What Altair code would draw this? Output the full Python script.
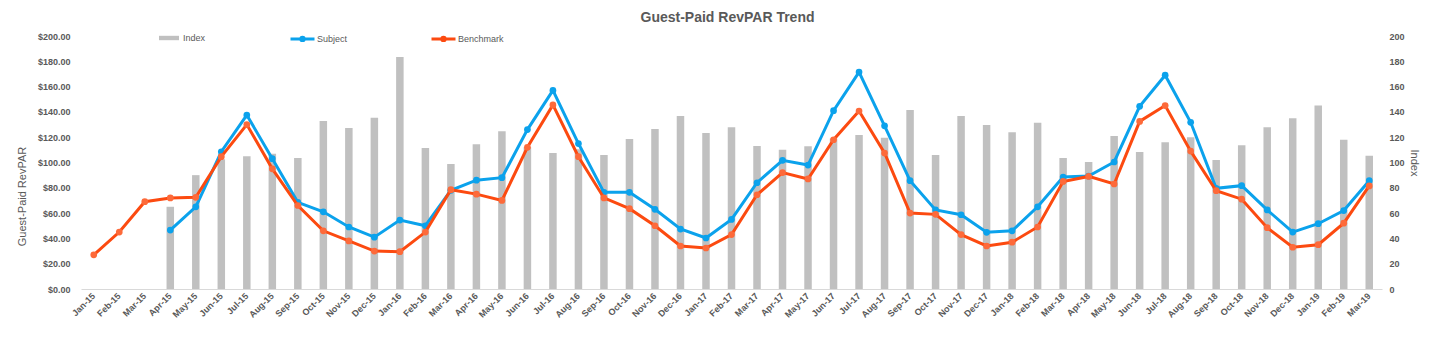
import altair as alt
import pandas as pd

months = ["Jan-15","Feb-15","Mar-15","Apr-15","May-15","Jun-15","Jul-15","Aug-15","Sep-15","Oct-15","Nov-15","Dec-15",
          "Jan-16","Feb-16","Mar-16","Apr-16","May-16","Jun-16","Jul-16","Aug-16","Sep-16","Oct-16","Nov-16","Dec-16",
          "Jan-17","Feb-17","Mar-17","Apr-17","May-17","Jun-17","Jul-17","Aug-17","Sep-17","Oct-17","Nov-17","Dec-17",
          "Jan-18","Feb-18","Mar-18","Apr-18","May-18","Jun-18","Jul-18","Aug-18","Sep-18","Oct-18","Nov-18","Dec-18",
          "Jan-19","Feb-19","Mar-19"]

subject = [None, None, None, 46.6, 65, 108.5, 137.5, 103, 68.5, 61, 49, 41,
           54.5, 50, 78, 86, 88, 126, 157, 115, 76.4, 76.4, 63, 47.4,
           40.3, 55, 84, 101.7, 98, 141, 171.5, 129, 85.6, 62.5, 58.7, 44.8,
           46, 65, 88.5, 89.3, 100.4, 144.4, 169, 131.8, 79.6, 81.7, 62.5, 45,
           51.6, 62, 85.6]

benchmark = [27, 45, 69, 72, 72.5, 104.6, 130, 95, 66, 46, 38, 30,
             29.5, 45, 78.5, 75, 70, 112, 145.5, 104.6, 72, 63.5, 50, 34,
             32.4, 43, 74.5, 92, 87, 118, 140.7, 107.5, 60, 59, 43, 34,
             37, 49, 85, 89, 83, 132.5, 145, 109, 77.7, 71, 48.5, 33,
             35, 52, 81.5]

index_vals = [None, None, None, 65, 90, 102.5, 105, 107, 103.6, 132.8, 127.3, 135.4,
              183.4, 111.5, 98.8, 114.4, 124.7, 112, 107.5, 110.4, 106, 118.6, 126.5, 136.8,
              123.3, 127.8, 113, 110, 112.8, 119, 121.7, 119.6, 141.5, 106, 136.8, 129.6,
              124, 131.5, 103.6, 100.4, 121, 108.3, 116, 120, 102, 113.6, 127.8, 135,
              145, 118, 105.4]

series_names = ["Subject", "Benchmark"]
line_colors = ["#0ba2ec", "#fc4a10"]
point_colors = ["#0ba2ec", "#fd6a3a"]
bar_color = "#c0c0c0"
txt = "#595959"
FONT = "Liberation Sans"

bars_df = pd.DataFrame({"month": months, "value": index_vals, "series": "Index"}).dropna()
rows = []
for name, vals in (("Subject", subject), ("Benchmark", benchmark)):
    for m, v in zip(months, vals):
        if v is not None:
            rows.append({"month": m, "value": v, "series": name})
lines_df = pd.DataFrame(rows)

xenc = alt.X("month:N", sort=months,
             scale=alt.Scale(domain=months, paddingInner=0, paddingOuter=0),
             axis=alt.Axis(title=None, labelAngle=-45, labelAlign="right", labelBaseline="middle",
                           labelPadding=5, ticks=False, domainColor="#d9d9d9", domainWidth=1,
                           labelFontSize=9, labelFontWeight="bold", labelColor=txt, labelFont=FONT))

bars = alt.Chart(bars_df).mark_bar(size=7.5).encode(
    x=xenc,
    y=alt.Y("value:Q", scale=alt.Scale(domain=[0, 200]),
            axis=alt.Axis(orient="right", title="Index", values=list(range(0, 201, 20)),
                          grid=False, domain=False, ticks=False, labelPadding=7,
                          labelAlign="left", labelFontSize=9, labelFontWeight="bold",
                          labelColor=txt, labelFont=FONT, titleFont=FONT, titleFontSize=11,
                          titleFontWeight="normal", titleColor=txt, titlePadding=4)),
    fill=alt.Fill("series:N", scale=alt.Scale(domain=["Index"], range=[bar_color]),
                  legend=alt.Legend(title=None, orient="none", legendX=77, legendY=-9,
                                    symbolType="M-1,-0.22H1V0.22H-1Z", symbolSize=400,
                                    labelFontSize=9, labelColor=txt, labelFont=FONT,
                                    labelOffset=3, padding=0)),
)

yleft = alt.Y("value:Q", scale=alt.Scale(domain=[0, 200]),
              axis=alt.Axis(orient="left", title="Guest-Paid RevPAR", format="$,.2f",
                            values=list(range(0, 201, 20)), grid=False, domain=False, ticks=False,
                            labelPadding=11, labelFontSize=9, labelFontWeight="bold",
                            labelColor=txt, labelFont=FONT, titleFont=FONT, titleFontSize=11,
                            titleFontWeight="normal", titleColor=txt, titlePadding=10,
                            titleY=160, titleAlign="center"))

stroke_enc = alt.Stroke("series:N", scale=alt.Scale(domain=series_names, range=line_colors),
                        legend=alt.Legend(title=None, orient="none", legendX=208, legendY=-11,
                                          direction="horizontal", columns=2, gridAlign="each",
                                          columnPadding=77,
                                          symbolType="M-1,0H1M0.14,0A0.14,0.14,0,1,1,-0.14,0A0.14,0.14,0,1,1,0.14,0",
                                          symbolSize=576, symbolStrokeWidth=3,
                                          labelFontSize=9, labelColor=txt, labelFont=FONT,
                                          labelOffset=1, padding=0))
color_enc = alt.Color("series:N", scale=alt.Scale(domain=series_names, range=point_colors), legend=None)

layers = []
for name in series_names:
    base = alt.Chart(lines_df).transform_filter(alt.datum.series == name)
    layers.append(base.mark_line(strokeWidth=3).encode(x=xenc, y=yleft, stroke=stroke_enc))
    layers.append(base.mark_point(filled=True, size=45, opacity=1).encode(x=xenc, y=yleft, color=color_enc))

lines = alt.layer(*layers)

chart = alt.layer(bars, lines).resolve_scale(y="independent").properties(
    width=1301, height=253,
    autosize=alt.AutoSizeParams(type="none"),
    padding={"left": 73, "top": 28, "right": 65, "bottom": 60},
    title=alt.TitleParams("Guest-Paid RevPAR Trend", fontSize=14, fontWeight="bold", color=txt,
                          font=FONT, anchor="middle", offset=0, dx=-4),
).configure_view(stroke=None).configure_axis(grid=False)

chart.save("out.html", embed_options={"renderer": "svg", "actions": False})
